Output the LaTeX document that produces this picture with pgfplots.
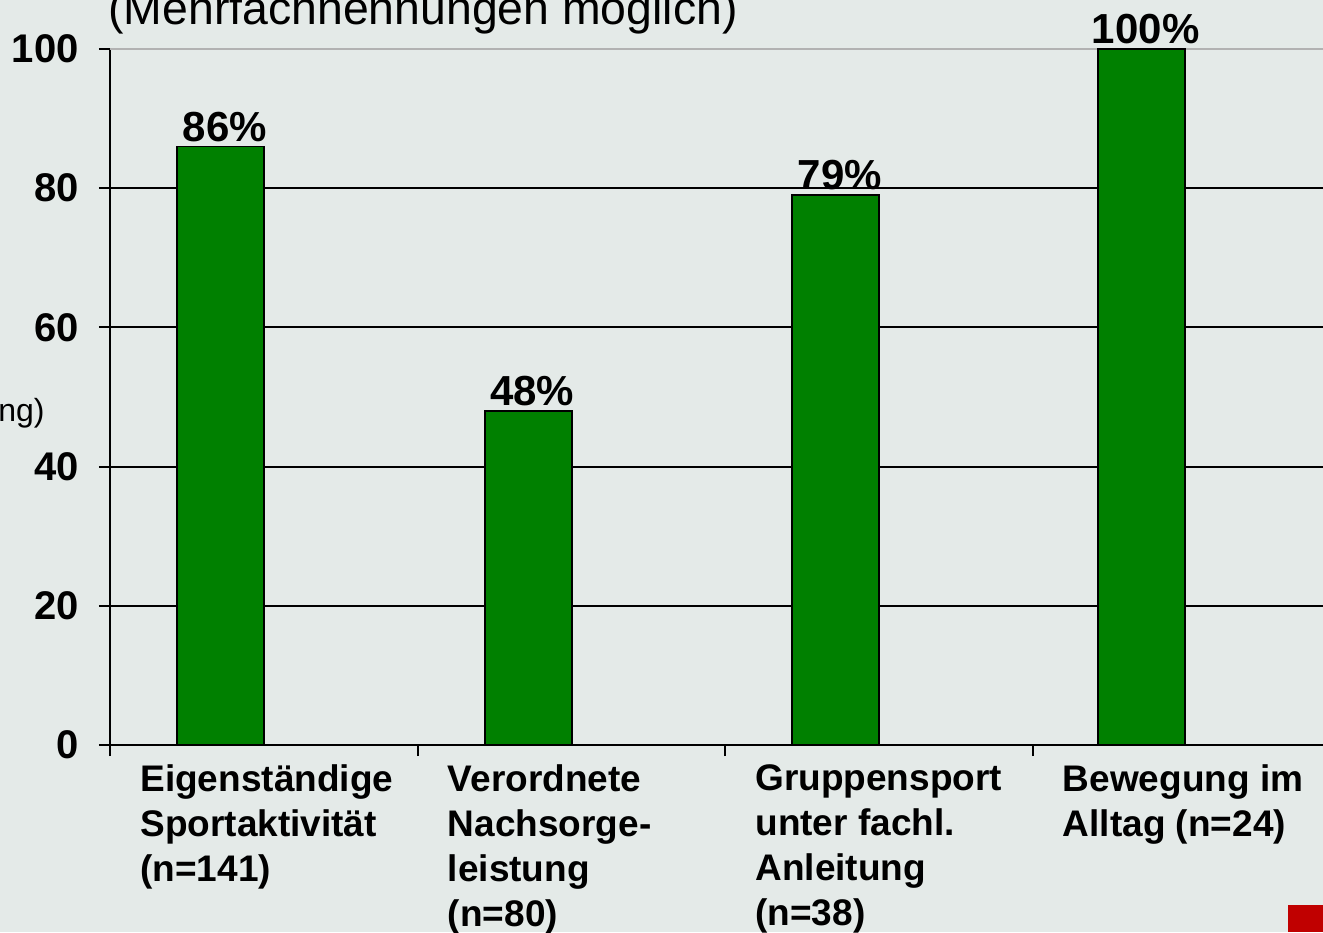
\documentclass[border=0pt]{standalone}
\usepackage{fontspec}
\setmainfont{Liberation Sans}
\usepackage{pgfplots}
\pgfplotsset{compat=1.18}
\definecolor{bg}{RGB}{228,234,232}
\definecolor{barGreen}{RGB}{0,128,0}
\definecolor{cornerRed}{RGB}{192,0,0}

\begin{document}
\begin{tikzpicture}[x=0.5pt,y=0.5pt]
\fill[bg] (0,0) rectangle (1323,932);
\clip (0,0) rectangle (1323,932);
\begin{axis}[
    at={(55pt,93.5pt)}, anchor=origin,
    width=615pt, height=348pt, scale only axis,
    xmin=0, xmax=4, ymin=0, ymax=100,
    axis lines*=left,
    axis line style={line width=1pt, black},
    tick align=outside,
    ytick={0,20,40,60,80},
    extra y ticks={100},
    extra y tick style={grid style={line width=1pt, gray!60}},
    ymajorgrids,
    grid style={line width=1pt, black},
    major tick length=5.5pt,
    tick style={line width=1pt, black},
    /pgf/number format/assume math mode=true,
    yticklabel style={font=\bfseries\fontsize{20}{24}\selectfont, inner sep=0pt, xshift=-10pt},
    xtick={0,1,2,3,4},
    xticklabels={{Eigenständige\\Sportaktivität\\(n=141)},
                 {Verordnete\\Nachsorge-\\leistung\\(n=80)},
                 {Gruppensport\\unter fachl.\\Anleitung\\(n=38)},
                 {Bewegung im\\Alltag (n=24)},{}},
    xticklabel style={anchor=north west, align=left, inner sep=0pt, xshift=15pt, yshift=-4pt,
        font=\bfseries\fontsize{18.5}{22.5}\selectfont},
    nodes near coords={\pgfmathprintnumber{\pgfplotspointmeta}\%},
    nodes near coords style={font=\bfseries\fontsize{21}{25}\selectfont, inner sep=2pt, xshift=2pt},
]
\addplot[ybar, bar width=43.5pt, fill=barGreen, draw=black, line width=0.8pt]
    coordinates {(0.36,86) (1.36,48) (2.36,79) (3.355,100)};
\end{axis}
\node[anchor=base west, inner sep=0pt, font=\fontsize{23.2}{27}\selectfont] at (108,907) {(Mehrfachnennungen möglich)};
\node[anchor=base east, inner sep=0pt, font=\fontsize{16}{19}\selectfont] at (45,510) {ng)};
\fill[cornerRed] (1288,0) rectangle (1323,27);
\end{tikzpicture}
\end{document}
